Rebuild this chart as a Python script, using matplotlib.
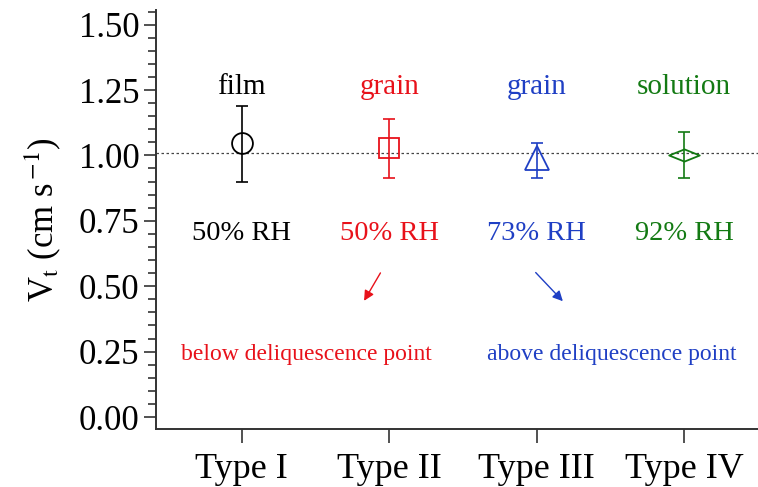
import matplotlib.pyplot as plt
from matplotlib.ticker import MultipleLocator
from matplotlib.path import Path

plt.rcParams['font.family'] = ['Liberation Serif', 'DejaVu Serif']
plt.rcParams['mathtext.fontset'] = 'stix'

# data
types = ["Type I", "Type II", "Type III", "Type IV"]
vt = [1.046, 1.027, 0.99, 1.00]
vt_low = [0.897, 0.912, 0.912, 0.912]
vt_high = [1.187, 1.141, 1.046, 1.088]
states = ["film", "grain", "grain", "solution"]
rh = ["50% RH", "50% RH", "73% RH", "92% RH"]
colors = ["black", "#e8111a", "#1f3fc4", "#137a13"]
ref_line = 1.008

# flat diamond like the original
flat_diamond = Path([(-1, 0), (0, 0.4), (1, 0), (0, -0.4), (-1, 0)],
                    [Path.MOVETO, Path.LINETO, Path.LINETO, Path.LINETO, Path.CLOSEPOLY])
markers = ["o", "s", "^", flat_diamond]
sizes = [15, 15, 17, 22]

fig = plt.figure(figsize=(7.58, 4.87), dpi=100)
ax = fig.add_axes([0.206, 0.119, 0.794, 0.86])

x = list(range(1, len(types) + 1))
for i in range(len(types)):
    yerr = [[vt[i] - vt_low[i]], [vt_high[i] - vt[i]]]
    ax.errorbar(x[i], vt[i], yerr=yerr, fmt="none", ecolor=colors[i],
                elinewidth=1.2, capsize=4.5, capthick=1.2)
    ax.plot(x[i], vt[i], marker=markers[i], ls="none", mfc="none", mec=colors[i],
            ms=sizes[i], mew=1.3)
    ax.text(x[i], 1.26, states[i], color=colors[i], ha="center", va="center", fontsize=21)
    ax.text(x[i], 0.70, rh[i], color=colors[i], ha="center", va="center", fontsize=20.5)

ax.axhline(ref_line, color="#444444", ls=(0, (2, 2)), lw=0.9, zorder=0)

# arrows and notes
ax.annotate("", xy=(1.82, 0.435), xytext=(1.95, 0.56),
            arrowprops=dict(arrowstyle="-|>", color=colors[1], lw=1.0, mutation_scale=15))
ax.annotate("", xy=(3.19, 0.435), xytext=(2.98, 0.56),
            arrowprops=dict(arrowstyle="-|>", color=colors[2], lw=1.0, mutation_scale=15))
ax.text(1.44, 0.24, "below deliquescence point", color=colors[1], ha="center", va="center", fontsize=17)
ax.text(3.51, 0.24, "above deliquescence point", color=colors[2], ha="center", va="center", fontsize=17)

ax.set_xlim(0.42, 4.5)
ax.set_ylim(-0.046, 1.555)
ax.set_xticks(x)
ax.set_xticklabels(types, fontsize=26)
ax.yaxis.set_major_locator(MultipleLocator(0.25))
ax.yaxis.set_minor_locator(MultipleLocator(0.05))
ax.yaxis.set_major_formatter(plt.FormatStrFormatter("%.2f"))
ax.tick_params(axis="y", labelsize=25)
ax.tick_params(axis="both", direction="out", width=1.2, color="#333333")
ax.tick_params(axis="y", which="major", length=9, pad=3)
ax.tick_params(axis="y", which="minor", length=6, width=1.2, color="#333333")
ax.tick_params(axis="x", which="major", length=10, pad=7)
ax.spines["top"].set_visible(False)
ax.spines["right"].set_visible(False)
for s in ["left", "bottom"]:
    ax.spines[s].set_linewidth(1.4)
    ax.spines[s].set_color("#333333")

ax.set_ylabel(r"V$_\mathrm{t}$ (cm s$^{\,\mathrm{-1}}$)", fontsize=25, labelpad=11)

fig.savefig("out.png", dpi=100)
